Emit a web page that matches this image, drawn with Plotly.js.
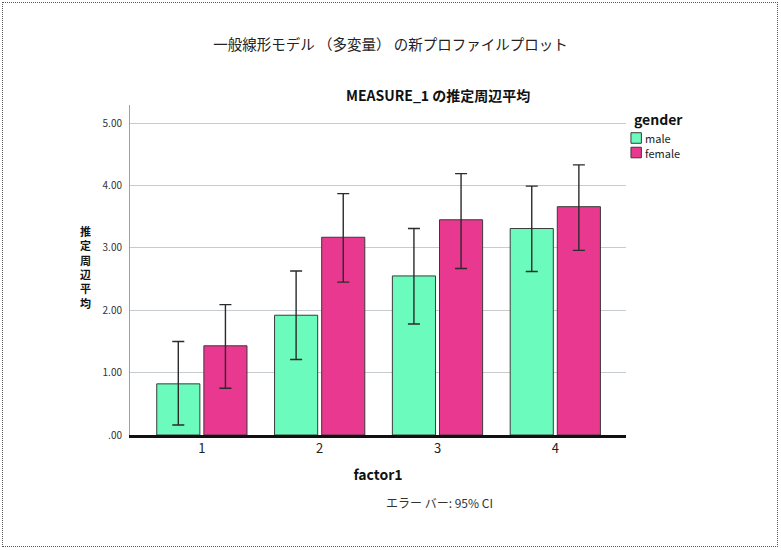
<!DOCTYPE html>
<html>
<head>
<meta charset="utf-8">
<script src="https://cdn.plot.ly/plotly-3.0.1.min.js"></script>
<style>
  html, body { margin:0; padding:0; background:#fff; }
  #wrap { position:relative; width:781px; height:550px; }
  #chart { width:781px; height:550px; }
  #frame { position:absolute; left:2px; top:2px; width:774px; height:543px; border:1px dotted #555; pointer-events:none; }
</style>
</head>
<body>
<div id="wrap"><div id="chart"></div><div id="frame"></div></div>
<script>
const categories = ['1', '2', '3', '4'];
const tickValues = [0, 1, 2, 3, 4, 5];
const tickLabels = ['.00', '1.00', '2.00', '3.00', '4.00', '5.00'];
const seriesNames = ['male', 'female'];
const seriesColors = ['#6afbbd', '#e8388f'];
const maleMean = [0.82, 1.92, 2.55, 3.31];
const maleLow  = [0.16, 1.21, 1.78, 2.62];
const maleHigh = [1.50, 2.63, 3.31, 3.99];
const femaleMean = [1.43, 3.17, 3.45, 3.66];
const femaleLow  = [0.75, 2.45, 2.67, 2.96];
const femaleHigh = [2.09, 3.87, 4.19, 4.33];
const mainTitle = '一般線形モデル （多変量） の新プロファイルプロット';
const subTitle = 'MEASURE_1 の推定周辺平均';
const yTitle = '推定周辺平均';
const xTitle = 'factor1';
const legendTitle = 'gender';
const footNote = 'エラー バー: 95% CI';

const FONT = '"Noto Sans CJK JP", "Noto Sans", sans-serif';

function barTrace(name, color, mean, low, high) {
  return {
    type: 'bar', name: name, x: categories, y: mean,
    marker: { color: color, line: { color: '#3a3a3a', width: 1 } },
    error_y: {
      type: 'data', symmetric: false,
      array: mean.map((m, i) => high[i] - m),
      arrayminus: mean.map((m, i) => m - low[i]),
      color: '#2b2b2b', thickness: 1.4, width: 6
    },
    showlegend: false, hoverinfo: 'skip'
  };
}

const data = [
  barTrace(seriesNames[0], seriesColors[0], maleMean, maleLow, maleHigh),
  barTrace(seriesNames[1], seriesColors[1], femaleMean, femaleLow, femaleHigh)
];

const annotations = [
  { text: '<b>' + subTitle + '</b>', xref: 'paper', yref: 'paper', x: 0.621, y: 1.03,
    xanchor: 'center', yanchor: 'middle', showarrow: false, font: { size: 14, color: '#111', family: FONT } },
  { text: footNote, xref: 'paper', yref: 'paper', x: 0.623, y: -0.206,
    xanchor: 'center', yanchor: 'middle', showarrow: false, font: { size: 12, color: '#333', family: FONT } },
  { text: '<b>' + legendTitle + '</b>', xref: 'paper', yref: 'paper', x: 1.012, y: 0.958,
    xanchor: 'left', yanchor: 'middle', showarrow: false, font: { size: 14, color: '#111', family: FONT } },
  { text: '<b>' + Array.from(yTitle).join('<br>') + '</b>', xref: 'paper', yref: 'paper', x: -0.089, y: 0.51,
    xanchor: 'center', yanchor: 'middle', showarrow: false, font: { size: 11, color: '#111', family: FONT } }
];

const shapes = [];
const legYs = [0.9, 0.856];
seriesNames.forEach((n, i) => {
  shapes.push({ type: 'rect', xref: 'paper', yref: 'paper', x0: 1.01, x1: 1.031,
    y0: legYs[i] - 0.016, y1: legYs[i] + 0.016,
    fillcolor: seriesColors[i], line: { color: '#3a3a3a', width: 1 } });
  annotations.push({ text: n, xref: 'paper', yref: 'paper', x: 1.035, y: legYs[i],
    xanchor: 'left', yanchor: 'middle', showarrow: false, font: { size: 11, color: '#222', family: FONT } });
});

const layout = {
  width: 781, height: 550,
  margin: { l: 130, r: 155, t: 105, b: 115 },
  paper_bgcolor: '#fff', plot_bgcolor: '#fff',
  font: { family: FONT, color: '#222' },
  title: { text: mainTitle, x: 0.5, xanchor: 'center', y: 0.918, yanchor: 'middle', yref: 'container',
    font: { size: 14.5, color: '#222', family: FONT } },
  barmode: 'group', bargap: 0.2, bargroupgap: 0.085,
  xaxis: {
    type: 'category', range: [-0.61, 3.6],
    showline: true, linecolor: '#111', linewidth: 2.5,
    showgrid: false, ticks: '', tickfont: { size: 13, color: '#222' },
    title: { text: '<b>' + xTitle + '</b>', font: { size: 14, color: '#111' }, standoff: 14 }
  },
  yaxis: {
    range: [0, 5.29], tickvals: tickValues, ticktext: tickLabels,
    showline: true, linecolor: '#9aa3a8', linewidth: 1,
    showgrid: true, gridcolor: '#c6cbcf', gridwidth: 1, zeroline: false,
    ticks: '', ticklabelstandoff: 5, tickfont: { size: 10, color: '#333' }
  },
  annotations: annotations,
  shapes: shapes,
  showlegend: false
};

Plotly.newPlot('chart', data, layout, { displayModeBar: false, staticPlot: true });
</script>
</body>
</html>
